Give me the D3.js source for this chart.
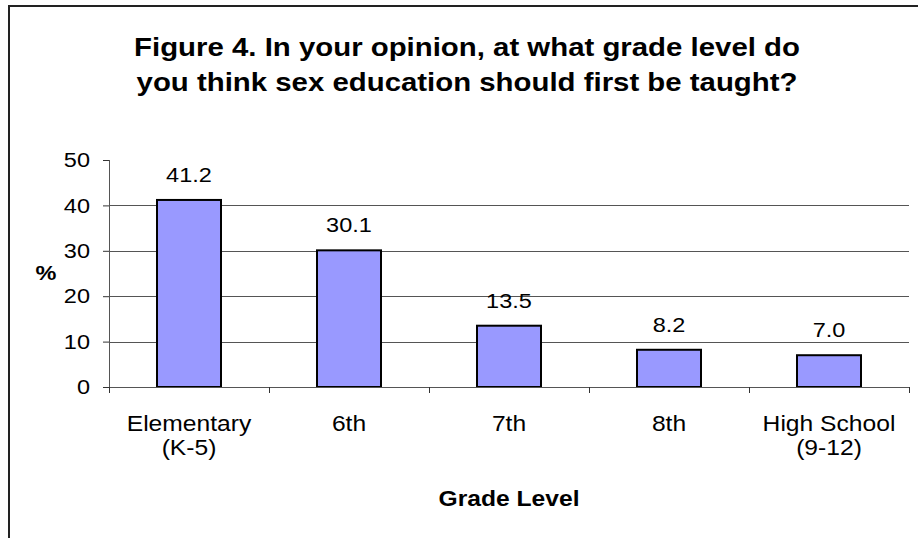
<!DOCTYPE html>
<html>
<head>
<meta charset="utf-8">
<script src="https://cdn.jsdelivr.net/npm/d3@7"></script>
<style>
  body { margin: 0; background: #fff; }
  text { font-family: Arial, "Liberation Sans", sans-serif; fill: #000; }
</style>
</head>
<body>
<div id="chart"></div>
<script>
// data
var categories = ["Elementary (K-5)", "6th", "7th", "8th", "High School (9-12)"];
var categoryLines = [["Elementary", "(K-5)"], ["6th"], ["7th"], ["8th"], ["High School", "(9-12)"]];
var percents = [41.2, 30.1, 13.5, 8.2, 7.0];
var yTicks = [0, 10, 20, 30, 40, 50];
var titleLines = ["Figure 4. In your opinion, at what grade level do",
                  "you think sex education should first be taught?"];

var svgWidth = 918;
var svgHeight = 538;

// the original picture is a bit wider than tall, so text is stretched sideways
var sx = 1.12;

var margin = { top: 160, right: 9, bottom: 151, left: 109 };
var width = svgWidth - margin.left - margin.right;
var height = svgHeight - margin.top - margin.bottom;

var svg = d3.select("#chart")
  .append("svg")
  .attr("width", svgWidth)
  .attr("height", svgHeight);

// outer chart frame (right/bottom edges fall outside the picture)
svg.append("rect")
  .attr("x", 9)
  .attr("y", 6)
  .attr("width", 1200)
  .attr("height", 1200)
  .attr("fill", "none")
  .attr("stroke", "#222")
  .attr("stroke-width", 2);

var chartGroup = svg.append("g")
  .attr("transform", `translate(${margin.left}, ${margin.top})`);

var xBand = d3.scaleBand()
  .domain(categories)
  .range([0, width])
  .paddingInner(0.6)
  .paddingOuter(0.3);

var xEdges = d3.scaleLinear()
  .domain([0, categories.length])
  .range([0, width]);

var yLinearScale = d3.scaleLinear()
  .domain([0, 50])
  .range([height, 0]);

var center = i => xBand(categories[i]) + xBand.bandwidth() / 2;

// gridlines (none at the top value)
chartGroup.append("g")
  .selectAll("line")
  .data(yTicks.filter(t => t > 0 && t < 50))
  .enter()
  .append("line")
  .attr("x1", 0)
  .attr("x2", width)
  .attr("y1", d => Math.round(yLinearScale(d)) + 0.5)
  .attr("y2", d => Math.round(yLinearScale(d)) + 0.5)
  .attr("stroke", "#555")
  .attr("stroke-width", 1);

// bars
chartGroup.selectAll("rect.bar")
  .data(percents)
  .enter()
  .append("rect")
  .attr("class", "bar")
  .attr("x", (d, i) => xBand(categories[i]))
  .attr("y", d => yLinearScale(d))
  .attr("width", xBand.bandwidth())
  .attr("height", d => height - yLinearScale(d))
  .attr("fill", "#9999ff")
  .attr("stroke", "#000")
  .attr("stroke-width", 2);

// value labels
chartGroup.selectAll("text.value")
  .data(percents)
  .enter()
  .append("text")
  .attr("class", "value")
  .attr("transform", (d, i) => `translate(${center(i)}, ${yLinearScale(d) - 18}) scale(${sx}, 1)`)
  .attr("text-anchor", "middle")
  .style("font-size", "21px")
  .text(d => d.toFixed(1));

// y axis
var leftAxis = d3.axisLeft(yLinearScale)
  .tickValues(yTicks)
  .tickSize(6)
  .tickPadding(13);

var yAxisG = chartGroup.append("g").call(leftAxis);
yAxisG.select(".domain").attr("stroke", "#555").attr("d", `M0.5,0V${height}`);
yAxisG.selectAll(".tick line").attr("stroke", "#333");
yAxisG.selectAll(".tick text")
  .attr("x", -19 / sx)
  .attr("transform", `scale(${sx}, 1)`)
  .style("font-size", "21px")
  .style("font-family", "Arial, 'Liberation Sans', sans-serif")
  .attr("fill", "#000");

// x axis: ticks between categories
var bottomAxis = d3.axisBottom(xEdges)
  .tickValues(d3.range(categories.length + 1))
  .tickSize(6)
  .tickFormat("");

var xAxisG = chartGroup.append("g")
  .attr("transform", `translate(0, ${height})`)
  .call(bottomAxis);
xAxisG.select(".domain").attr("stroke", "#555").attr("d", `M0,0.5H${width}`);
xAxisG.selectAll(".tick line").attr("stroke", "#333");

// category labels
var catLabels = chartGroup.selectAll("text.cat")
  .data(categoryLines)
  .enter()
  .append("text")
  .attr("class", "cat")
  .attr("text-anchor", "middle")
  .attr("transform", (d, i) => `translate(${center(i)}, ${height + 44}) scale(${sx}, 1)`)
  .style("font-size", "22px");

catLabels.selectAll("tspan")
  .data(d => d)
  .enter()
  .append("tspan")
  .attr("x", 0)
  .attr("dy", (d, i) => i === 0 ? 0 : 24)
  .text(d => d);

// axis titles
chartGroup.append("text")
  .attr("transform", `translate(${xEdges(2.5)}, ${height + 119}) scale(${sx}, 1)`)
  .attr("text-anchor", "middle")
  .style("font-size", "22px")
  .style("font-weight", "bold")
  .text("Grade Level");

svg.append("text")
  .attr("transform", `translate(46, 280) scale(${sx}, 1)`)
  .attr("text-anchor", "middle")
  .style("font-size", "21px")
  .style("font-weight", "bold")
  .text("%");

// title
svg.append("g")
  .selectAll("text")
  .data(titleLines)
  .enter()
  .append("text")
  .attr("transform", (d, i) => `translate(467, ${56 + i * 35}) scale(1.13, 1)`)
  .attr("text-anchor", "middle")
  .style("font-size", "26px")
  .style("font-weight", "bold")
  .text(d => d);
</script>
</body>
</html>
